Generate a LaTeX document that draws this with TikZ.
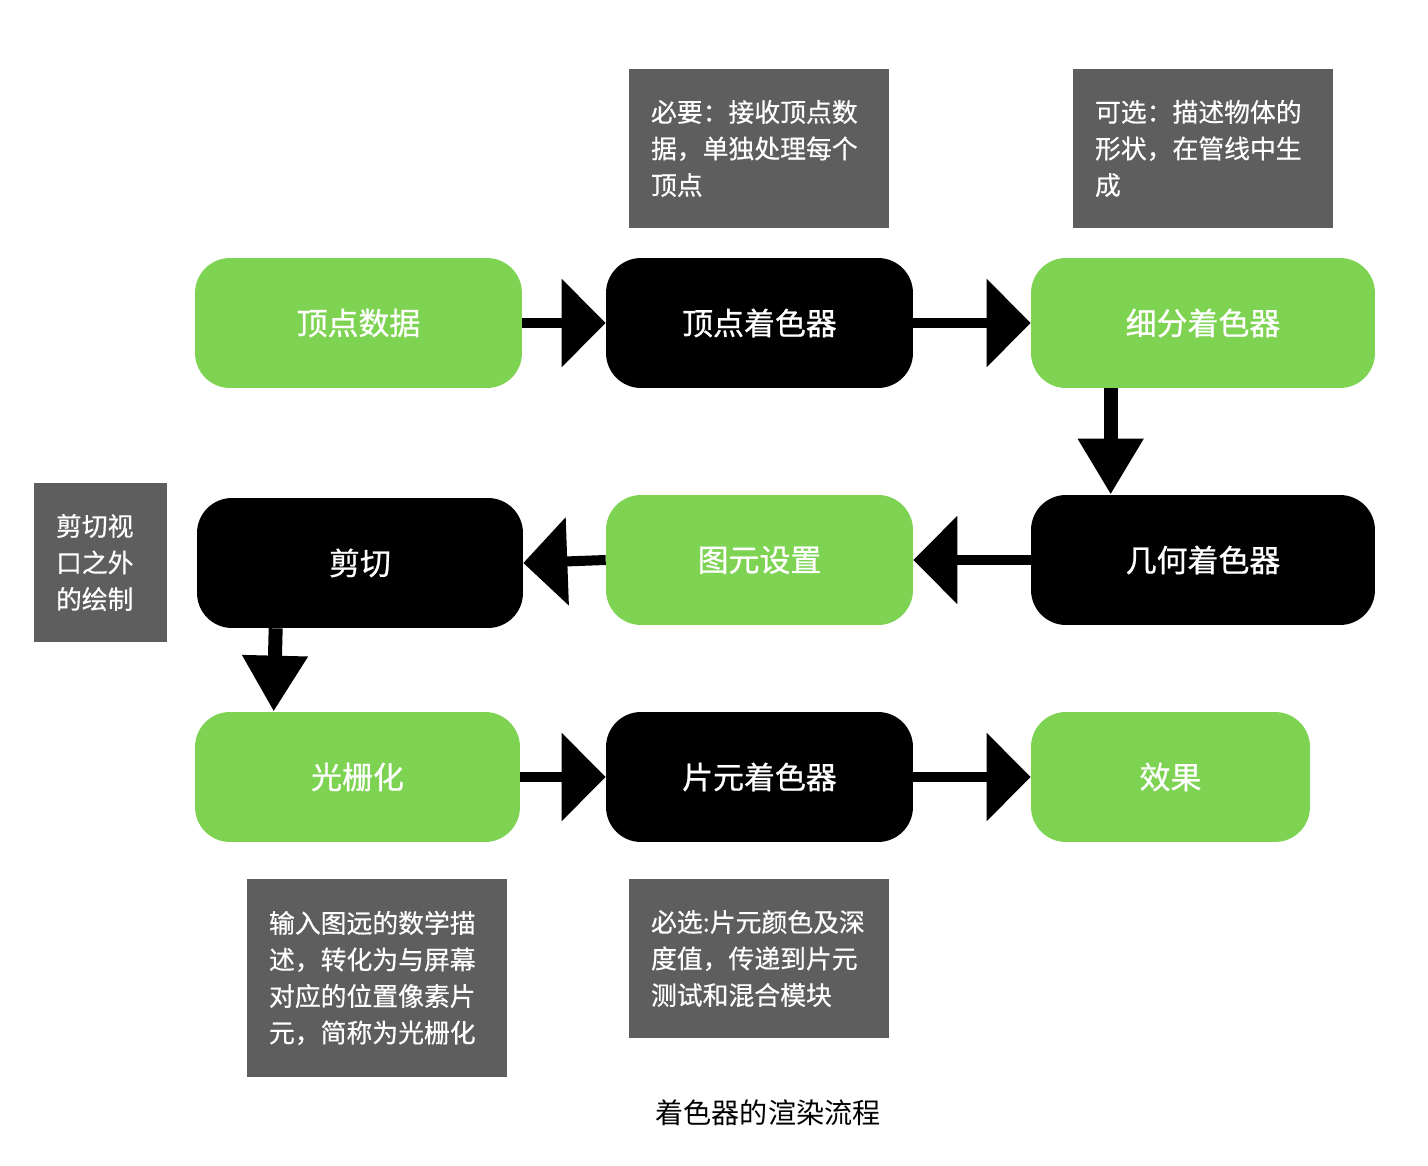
\documentclass[tikz,border=0pt]{standalone}
\usepackage{fontspec}
\setmainfont{Noto Sans CJK SC}
\newfontfamily\stagefont{Noto Sans CJK SC}[FakeBold=0.8]
\newfontfamily\notefont{Noto Sans CJK SC}[FakeBold=0.5]
\usetikzlibrary{arrows.meta}
\definecolor{stagegreen}{RGB}{126,211,82}
\definecolor{notegray}{RGB}{94,94,94}
\tikzset{
  stage/.style    = {shape=rectangle, rounded corners=0.7cm,
                     minimum height=2.6cm, align=center,
                     font=\stagefont\fontsize{17.6}{21}\selectfont},
  greenbox/.style = {stage, fill=stagegreen, text=white},
  blackbox/.style = {stage, fill=black, text=white},
  note/.style     = {shape=rectangle, fill=notegray, text=white,
                     inner xsep=0.44cm, align=left,
                     minimum height=3.18cm,
                     font=\notefont\fontsize{14.7}{20.8}\selectfont},
  flow/.style     = {line width=0.2cm,
                     -{Triangle[length=0.88cm,width=1.72cm]}},
  drop/.style     = {line width=0.28cm,
                     -{Triangle[length=1.12cm,width=1.24cm]}}
}
\begin{document}
\begin{tikzpicture}
  [
    x=0.02cm, y=-0.02cm
  ]
  \useasboundingbox (0,0) rectangle (1428,1166);
  \node [greenbox, minimum width=6.54cm] (vdata)   at (358.5,323) {顶点数据};
  \node [blackbox, minimum width=6.14cm] (vshader) at (759.5,323) {顶点着色器};
  \node [greenbox, minimum width=6.88cm] (tess)    at (1203,323)  {细分着色器};
  \node [blackbox, minimum width=6.52cm] (clip)    at (360,563)   {剪切};
  \node [greenbox, minimum width=6.14cm] (prim)    at (759.5,560) {图元设置};
  \node [blackbox, minimum width=6.88cm] (geom)    at (1203,560)  {几何着色器};
  \node [greenbox, minimum width=6.5cm]  (raster)  at (357.5,777) {光栅化};
  \node [blackbox, minimum width=6.14cm] (frag)    at (759.5,777) {片元着色器};
  \node [greenbox, minimum width=5.58cm] (effect)  at (1170.5,777) {效果};

  \node [note, text width=4.32cm] (vnote) at (759,148.5)
    {必要：接收顶点数\\据，单独处理每个\\顶点};
  \node [note, text width=4.32cm] (tnote) at (1203,148.5)
    {可选：描述物体的\\形状，在管线中生\\成};
  \node [note, text width=1.78cm] (cnote) at (100.5,562.5)
    {剪切视\\口之外\\的绘制};
  \node [note, text width=4.32cm, minimum height=3.96cm] (rnote) at (377,978)
    {输入图远的数学描\\述，转化为与屏幕\\对应的位置像素片\\元，简称为光栅化};
  \node [note, text width=4.32cm] (fnote) at (759,958.5)
    {必选:片元颜色及深\\度值，传递到片元\\测试和混合模块};

  \node [font=\fontsize{16}{20}\selectfont] (title) at (768,1113) {着色器的渲染流程};

  \draw [flow] (vdata.east) -- (vshader.west);
  \draw [flow] (vshader.east) -- (tess.west);
  \draw [drop] ([xshift=1.6cm]tess.south west) -- ([xshift=1.6cm]geom.north west);
  \draw [flow] (geom.west) -- (prim.east);
  \draw [flow] (prim.west) -- (clip.east);
  \draw [drop] ([xshift=1.58cm]clip.south west) -- ([xshift=1.58cm]raster.north west);
  \draw [flow] (raster.east) -- (frag.west);
  \draw [flow] (frag.east) -- (effect.west);
\end{tikzpicture}
\end{document}
